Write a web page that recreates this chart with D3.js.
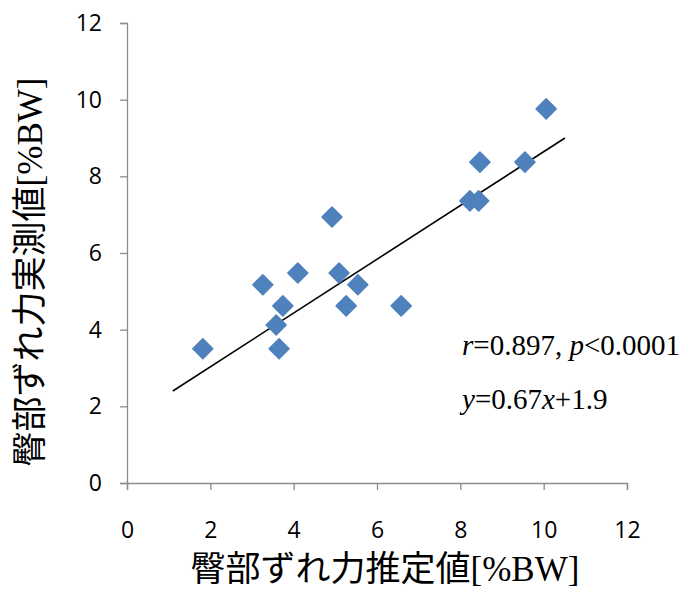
<html>
<head>
<meta charset="utf-8">
<script src="https://cdnjs.cloudflare.com/ajax/libs/d3/7.8.5/d3.min.js"></script>
<style>
  body { margin: 0; background: #fff; }
</style>
</head>
<body>
<div id="chart"></div>
<script>

// estimated vs measured buttock shear force [%BW]
var estimated = [1.82, 3.26, 3.58, 3.65, 3.74, 4.10, 4.92, 5.09, 5.26, 5.54, 6.58, 8.23, 8.44, 8.47, 9.55, 10.06];
var measured  = [3.50, 5.17, 4.12, 3.50, 4.62, 5.48, 6.94, 5.48, 4.62, 5.17, 4.62, 7.36, 7.36, 8.37, 8.37, 9.76];

// trend line end points as drawn
var trendX = [1.10, 10.51];
var trendY = [2.40, 9.00];

var xTicks = [0, 2, 4, 6, 8, 10, 12];
var yTicks = [0, 2, 4, 6, 8, 10, 12];

var xTitle = "臀部ずれ力推定値[%BW]";
var yTitle = "臀部ずれ力実測値[%BW]";

var W = 691, H = 590;
var mLeft = 127, mRight = 627, mTop = 23, mBottom = 483;

var svg = d3.select("#chart").append("svg")
	.attr("width", W)
	.attr("height", H);

var x = d3.scaleLinear().domain([0, 12]).range([mLeft, mRight]);
var y = d3.scaleLinear().domain([0, 12]).range([mBottom, mTop]);

var tickFont = "'Open Sans', 'DejaVu Sans', sans-serif";
var serifFont = "'Liberation Serif', 'Noto Sans CJK JP', serif";

// axes
var xAxis = svg.append("g")
	.attr("transform", "translate(0," + mBottom + ")")
	.call(d3.axisBottom(x).tickValues(xTicks).tickSize(7).tickPadding(32).tickFormat(d3.format("d")));

var yAxis = svg.append("g")
	.attr("transform", "translate(" + mLeft + ",0)")
	.call(d3.axisLeft(y).tickValues(yTicks).tickSize(7).tickPadding(18).tickFormat(d3.format("d")));

[xAxis, yAxis].forEach(function(a){
	a.select(".domain").attr("stroke", "#8c8c8c").attr("stroke-width", 1.3);
	a.selectAll(".tick line").attr("stroke", "#8c8c8c").attr("stroke-width", 1.3);
	a.selectAll(".tick text")
		.attr("fill", "#000")
		.style("font-family", tickFont)
		.style("font-size", "23px");
});

// trend line
svg.append("line")
	.attr("x1", x(trendX[0]))
	.attr("y1", y(trendY[0]))
	.attr("x2", x(trendX[1]))
	.attr("y2", y(trendY[1]))
	.attr("stroke", "#000")
	.attr("stroke-width", 1.6);

// points
var pts = estimated.map(function(d, i){ return {x: d, y: measured[i]}; });
var r = 10;
svg.append("g")
	.selectAll("path")
	.data(pts)
	.enter()
	.append("path")
	.attr("d", function(d){
		var cx = x(d.x), cy = y(d.y);
		return "M" + cx + "," + (cy - r) + "L" + (cx + r) + "," + cy + "L" + cx + "," + (cy + r) + "L" + (cx - r) + "," + cy + "Z";
	})
	.attr("fill", "#4f81bd")
	.attr("stroke", "#4f81bd")
	.attr("stroke-width", 1.5)
	.attr("stroke-linejoin", "round");

// stats annotation
var t1 = svg.append("text")
	.attr("x", 462)
	.attr("y", 355)
	.style("font-family", serifFont)
	.style("font-size", "29px");
t1.append("tspan").style("font-style", "italic").text("r");
t1.append("tspan").text("=0.897, ");
t1.append("tspan").style("font-style", "italic").text("p");
t1.append("tspan").text("<0.0001");

var t2 = svg.append("text")
	.attr("x", 462)
	.attr("y", 409)
	.style("font-family", serifFont)
	.style("font-size", "29px");
t2.append("tspan").style("font-style", "italic").text("y");
t2.append("tspan").text("=0.67");
t2.append("tspan").style("font-style", "italic").text("x");
t2.append("tspan").text("+1.9");

// axis titles
svg.append("text")
	.attr("x", 385)
	.attr("y", 581)
	.attr("text-anchor", "middle")
	.style("font-family", serifFont)
	.style("font-size", "35px")
	.text(xTitle);

svg.append("text")
	.attr("transform", "translate(42,272) rotate(-90)")
	.attr("text-anchor", "middle")
	.style("font-family", serifFont)
	.style("font-size", "35px")
	.text(yTitle);

</script>
</body>
</html>
